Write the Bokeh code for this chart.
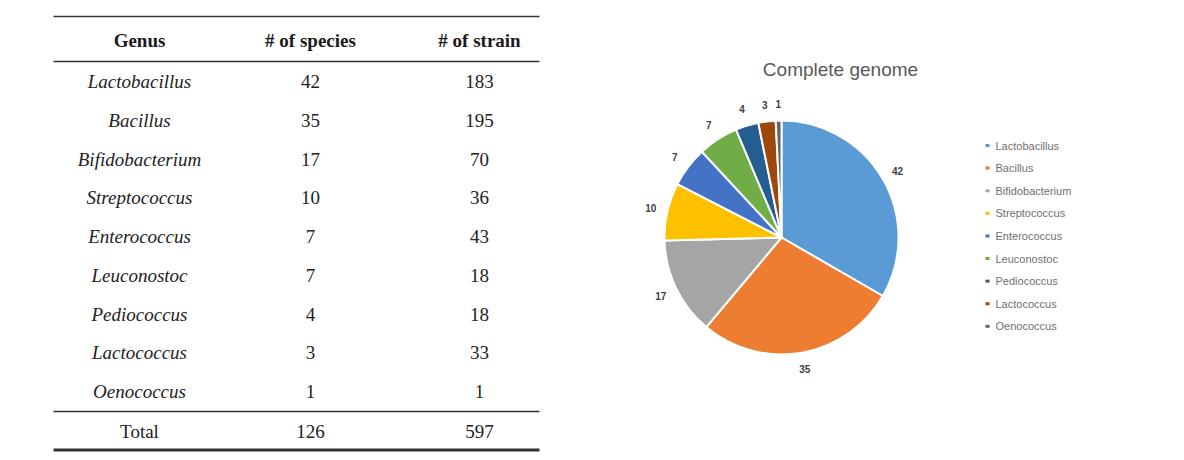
import math
from bokeh.plotting import figure
from bokeh.models import Range1d
from bokeh.core.properties import value
from bokeh.embed import file_html
from bokeh.resources import INLINE

# ---- data ----
genera = ["Lactobacillus", "Bacillus", "Bifidobacterium", "Streptococcus",
          "Enterococcus", "Leuconostoc", "Pediococcus", "Lactococcus", "Oenococcus"]
species = [42, 35, 17, 10, 7, 7, 4, 3, 1]
strains = [183, 195, 70, 36, 43, 18, 18, 33, 1]
headers = ["Genus", "# of species", "# of strain"]
total_label = "Total"
pie_title = "Complete genome"

# ---- styles ----
colors = ["#5B9BD5", "#ED7D31", "#A5A5A5", "#FFC000", "#4472C4",
          "#70AD47", "#255E91", "#9E480E", "#636363"]
SERIF = value("Liberation Serif")
SANS = value("Liberation Sans")
FS = "19px"

OFF = 1  # page offset of the figure
W, H = 1168, 452
p = figure(width=W, height=H, x_range=Range1d(OFF, OFF + W),
           y_range=Range1d(460 - OFF - H, 460 - OFF),
           output_backend="svg", toolbar_location=None, min_border=0)
p.axis.visible = False
p.grid.visible = False
p.outline_line_color = None


def Y(ry):
    return 460 - ry


# ---- table ----
col_x = [140, 311, 480]
row0, step = 82, 38.75
row_y = [Y(row0 + i * step) for i in range(len(genera))]

p.text(x=col_x, y=[Y(41)] * 3, text=headers, text_font=SERIF, text_font_style="bold",
       text_font_size=FS, text_align="center", text_baseline="middle", text_color="#1a1a1a")
p.text(x=[col_x[0]] * len(genera), y=row_y, text=genera, text_font=SERIF,
       text_font_style="italic", text_font_size=FS, text_align="center",
       text_baseline="middle", text_color="#222222")
p.text(x=[col_x[1]] * len(genera), y=row_y, text=[str(v) for v in species], text_font=SERIF,
       text_font_size=FS, text_align="center", text_baseline="middle", text_color="#222222")
p.text(x=[col_x[2]] * len(genera), y=row_y, text=[str(v) for v in strains], text_font=SERIF,
       text_font_size=FS, text_align="center", text_baseline="middle", text_color="#222222")
p.text(x=col_x, y=[Y(432)] * 3, text=[total_label, str(sum(species)), str(sum(strains))],
       text_font=SERIF, text_font_size=FS, text_align="center", text_baseline="middle",
       text_color="#222222")

p.segment(x0=[54, 54, 54], x1=[540, 540, 540], y0=[Y(17), Y(62), Y(412)],
          y1=[Y(17), Y(62), Y(412)], line_color="#333333", line_width=1.6)
p.segment(x0=[54], x1=[540], y0=[Y(450.5)], y1=[Y(450.5)], line_color="#333333", line_width=3.2)

# ---- pie ----
cx, cy, r = 782, Y(238), 117
tot = sum(species)
starts, ends, mids = [], [], []
cum = 0
for v in species:
    a0 = math.pi / 2 - 2 * math.pi * cum / tot
    cum += v
    a1 = math.pi / 2 - 2 * math.pi * cum / tot
    starts.append(a0)
    ends.append(a1)
    mids.append((a0 + a1) / 2)

p.wedge(x=[cx] * len(species), y=[cy] * len(species), radius=r, start_angle=starts,
        end_angle=ends, direction="clock", fill_color=colors, line_color="white", line_width=2)

rl = 134
p.text(x=[cx + rl * math.cos(m) for m in mids], y=[cy + rl * math.sin(m) for m in mids],
       text=[str(v) for v in species], text_font=SANS, text_font_style="bold",
       text_font_size="10px", text_align="center", text_baseline="middle", text_color="#404040")

p.text(x=[841], y=[Y(70)], text=[pie_title], text_font=SANS, text_font_size="19px",
       text_align="center", text_baseline="middle", text_color="#595959")

# ---- legend ----
leg_y = [Y(146 + i * 22.6) for i in range(len(genera))]
p.rect(x=[988] * len(genera), y=leg_y, width=4, height=3, fill_color=colors, line_color=None)
p.text(x=[996] * len(genera), y=leg_y, text=genera, text_font=SANS, text_font_size="11px",
       text_align="left", text_baseline="middle", text_color="#707070")

open("out.html", "w").write(file_html(p, INLINE))
